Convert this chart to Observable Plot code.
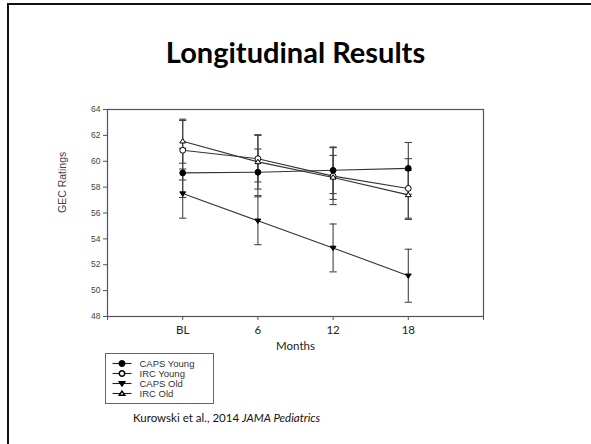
<!DOCTYPE html>
<html>
<head>
<meta charset="utf-8">
<script src="https://cdn.jsdelivr.net/npm/d3@7"></script>
<script src="https://cdn.jsdelivr.net/npm/@observablehq/plot@0.6"></script>
<style>
  html, body { margin: 0; padding: 0; background: #fff; }
  #page { position: relative; width: 591px; height: 444px; overflow: hidden; background: #fff; }
  #bord { position: absolute; left: 7px; top: 3px; width: 600px; height: 460px;
          border-left: 2.5px solid #111; border-top: 2.5px solid #111; }
  #title { position: absolute; left: 0; width: 591px; top: 34px; text-align: center;
           font-family: Lato, "Open Sans", sans-serif; font-weight: bold; font-size: 29px; color: #000; }
  #chart { position: absolute; left: 0; top: 90px; }
  #legend { position: absolute; left: 105px; top: 353px; }
  #caption { position: absolute; left: 133px; top: 411px; font-family: Lato, "Open Sans", sans-serif;
             font-size: 11.5px; color: #111; }
</style>
</head>
<body>
<div id="page">
  <div id="bord"></div>
  <div id="title">Longitudinal Results</div>
  <div id="chart"></div>
  <div id="legend"></div>
  <div id="caption">Kurowski et al., 2014 <i>JAMA Pediatrics</i></div>
</div>
<script>
// ---- data ----
const months = ["BL", "6", "12", "18"];
const seriesNames = ["CAPS Young", "IRC Young", "CAPS Old", "IRC Old"];
const capsYoung    = [59.1, 59.15, 59.3, 59.45];
const capsYoungErr = [1.9, 1.8, 1.8, 2.0];
const ircYoung     = [60.85, 60.2, 58.85, 57.9];
const ircYoungErr  = [2.3, 1.8, 2.2, 2.3];
const capsOld      = [57.5, 55.4, 53.3, 51.15];
const capsOldErr   = [1.9, 1.85, 1.85, 2.05];
const ircOld       = [61.55, 59.95, 58.75, 57.4];
const ircOldErr    = [1.7, 2.1, 1.7, 1.9];
const yTicks = [48, 50, 52, 54, 56, 58, 60, 62, 64];

// ---- build table ----
const vals = [capsYoung, ircYoung, capsOld, ircOld];
const errs = [capsYoungErr, ircYoungErr, capsOldErr, ircOldErr];
const data = [];
seriesNames.forEach((s, si) => {
  months.forEach((m, mi) => {
    data.push({series: s, idx: mi + 1, month: m, y: vals[si][mi],
               lo: vals[si][mi] - errs[si][mi], hi: vals[si][mi] + errs[si][mi]});
  });
});

// custom symbols
const capSymbol = {draw(ctx, size) { const w = 3.6; ctx.moveTo(-w, 0); ctx.lineTo(w, 0); }};
const triDown = {draw(ctx, size) { const r = Math.sqrt(size) / 1.75; ctx.moveTo(-r, -r * 0.6); ctx.lineTo(r, -r * 0.6); ctx.lineTo(0, r * 0.9); ctx.closePath(); }};
const triUp = {draw(ctx, size) { const r = Math.sqrt(size) / 1.75; ctx.moveTo(-r, r * 0.6); ctx.lineTo(r, r * 0.6); ctx.lineTo(0, -r * 0.9); ctx.closePath(); }};
const symRange = ["circle", "circle", triDown, triUp];
const fillRange = ["#000", "#fff", "#000", "#fff"];

const axisColor = "#555";

const chart = Plot.plot({
  width: 591,
  height: 270,
  marginLeft: 107,
  marginRight: 108,
  marginTop: 19,
  marginBottom: 44,
  style: {background: "transparent", overflow: "visible"},
  x: {domain: [0, 5]},
  y: {domain: [48, 64]},
  symbol: {domain: seriesNames, range: symRange},
  color: {domain: seriesNames, range: fillRange},
  marks: [
    Plot.frame({stroke: axisColor, strokeWidth: 1.2}),
    Plot.axisY({ticks: yTicks, tickSize: 4, tickPadding: 3, stroke: axisColor,
                fill: "#444", fontSize: 8.5, fontFamily: "Liberation Sans, Arial, sans-serif",
                label: null}),
    Plot.text(["GEC Ratings"], {frameAnchor: "left", dx: -45, rotate: -90,
                fontSize: 10.5, fontFamily: "Liberation Sans, Arial, sans-serif", fill: "#444"}),
    Plot.axisX({ticks: [0, 1, 2, 3, 4, 5], tickSize: 4, tickPadding: 5, stroke: axisColor,
                tickFormat: d => months[d - 1] ?? "", fill: "#222", fontSize: 11.5,
                fontFamily: "Lato, Open Sans, sans-serif", label: null}),
    Plot.text(["Months"], {frameAnchor: "bottom", dy: 33, fontSize: 11.5,
                fontFamily: "Lato, Open Sans, sans-serif", fill: "#222"}),
    Plot.ruleX(data, {x: "idx", y1: "lo", y2: "hi", stroke: "#444", strokeWidth: 1.1}),
    Plot.dot(data, {x: "idx", y: "lo", symbol: () => capSymbol, stroke: "#444", strokeWidth: 1.1}),
    Plot.dot(data, {x: "idx", y: "hi", symbol: () => capSymbol, stroke: "#444", strokeWidth: 1.1}),
    Plot.line(data, {x: "idx", y: "y", z: "series", stroke: "#333", strokeWidth: 1.1}),
    Plot.dot(data, {x: "idx", y: "y", symbol: "series", fill: "series", stroke: "#000",
                    strokeWidth: 1, r: 2.9})
  ]
});
document.getElementById("chart").appendChild(chart);

// ---- legend ----
const legData = seriesNames.map((s, i) => ({series: s, row: i}));
const legend = Plot.plot({
  width: 108,
  height: 50,
  marginLeft: 0, marginRight: 0, marginTop: 0, marginBottom: 0,
  style: {background: "#fff", overflow: "visible"},
  x: {domain: [0, 108], axis: null},
  y: {domain: [-1, 4], axis: null, reverse: true},
  symbol: {domain: seriesNames, range: symRange},
  color: {domain: seriesNames, range: fillRange},
  marks: [
    Plot.frame({stroke: "#666", strokeWidth: 1}),
    Plot.link(legData, {x1: () => 7, x2: () => 26, y1: "row", y2: "row", stroke: "#222", strokeWidth: 1.1}),
    Plot.dot(legData, {x: () => 16.5, y: "row", symbol: "series", fill: "series",
                       stroke: "#000", r: 2.7}),
    Plot.text(legData, {x: () => 34, y: "row", text: "series", textAnchor: "start",
                        fontSize: 9.5, fill: "#333", fontFamily: "Liberation Sans, Arial, sans-serif"})
  ]
});
document.getElementById("legend").appendChild(legend);
</script>
</body>
</html>
